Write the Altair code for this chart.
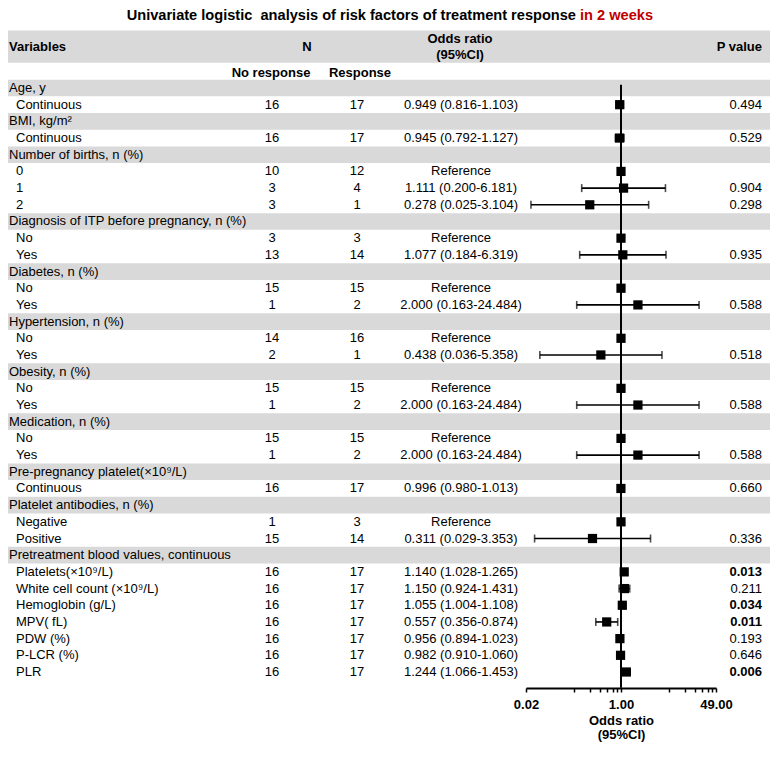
import altair as alt
import pandas as pd

# ---------------- data ----------------
title_black = "Univariate logistic\u00a0 analysis of risk factors of treatment response"
title_red = "in 2 weeks"

labels = [
    "Age, y", "Continuous",
    "BMI, kg/m\u00b2", "Continuous",
    "Number of births, n (%)", "0", "1", "2",
    "Diagnosis of ITP before pregnancy, n (%)", "No", "Yes",
    "Diabetes, n (%)", "No", "Yes",
    "Hypertension, n (%)", "No", "Yes",
    "Obesity, n (%)", "No", "Yes",
    "Medication, n (%)", "No", "Yes",
    "Pre-pregnancy platelet(\u00d710\u2079/L)", "Continuous",
    "Platelet antibodies, n (%)", "Negative", "Positive",
    "Pretreatment blood values, continuous",
    "Platelets(\u00d710\u2079/L)", "White cell count (\u00d710\u2079/L)", "Hemoglobin (g/L)",
    "MPV( fL)", "PDW (%)", "P-LCR (%)", "PLR",
]
is_group = [
    1, 0,
    1, 0,
    1, 0, 0, 0,
    1, 0, 0,
    1, 0, 0,
    1, 0, 0,
    1, 0, 0,
    1, 0, 0,
    1, 0,
    1, 0, 0,
    1,
    0, 0, 0, 0, 0, 0, 0,
]
no_response = [
    None, 16, None, 16, None, 10, 3, 3, None, 3, 13, None, 15, 1, None, 14, 2,
    None, 15, 1, None, 15, 1, None, 16, None, 1, 15, None, 16, 16, 16, 16, 16, 16, 16,
]
response = [
    None, 17, None, 17, None, 12, 4, 1, None, 3, 14, None, 15, 2, None, 16, 1,
    None, 15, 2, None, 15, 2, None, 17, None, 3, 14, None, 17, 17, 17, 17, 17, 17, 17,
]
# odds ratio, lower / upper 95% CI  (reference rows: OR = 1, no CI)
odds_ratio = [
    None, 0.949, None, 0.945, None, 1.0, 1.111, 0.278, None, 1.0, 1.077, None, 1.0, 2.000,
    None, 1.0, 0.438, None, 1.0, 2.000, None, 1.0, 2.000, None, 0.996, None, 1.0, 0.311,
    None, 1.140, 1.150, 1.055, 0.557, 0.956, 0.982, 1.244,
]
ci_low = [
    None, 0.816, None, 0.792, None, None, 0.200, 0.025, None, None, 0.184, None, None, 0.163,
    None, None, 0.036, None, None, 0.163, None, None, 0.163, None, 0.980, None, None, 0.029,
    None, 1.028, 0.924, 1.004, 0.356, 0.894, 0.910, 1.066,
]
ci_high = [
    None, 1.103, None, 1.127, None, None, 6.181, 3.104, None, None, 6.319, None, None, 24.484,
    None, None, 5.358, None, None, 24.484, None, None, 24.484, None, 1.013, None, None, 3.353,
    None, 1.265, 1.431, 1.108, 0.874, 1.023, 1.060, 1.453,
]
is_reference = [
    0, 0, 0, 0, 0, 1, 0, 0, 0, 1, 0, 0, 1, 0, 0, 1, 0, 0, 1, 0, 0, 1, 0, 0, 0, 0, 1, 0,
    0, 0, 0, 0, 0, 0, 0, 0,
]
p_values = [
    None, "0.494", None, "0.529", None, None, "0.904", "0.298", None, None, "0.935", None, None,
    "0.588", None, None, "0.518", None, None, "0.588", None, None, "0.588", None, "0.660",
    None, None, "0.336", None, "0.013", "0.211", "0.034", "0.011", "0.193", "0.646", "0.006",
]
p_significant = [
    0, 0, 0, 0, 0, 0, 0, 0, 0, 0, 0, 0, 0, 0, 0, 0, 0, 0, 0, 0, 0, 0, 0, 0, 0, 0, 0, 0,
    0, 1, 0, 1, 1, 0, 0, 1,
]
axis_ticks = [1 / 49] + [k / 7 for k in range(1, 8)] + [7 * k for k in range(1, 8)]
axis_domain = [1 / 49, 49]

# ---------------- tables ----------------
FIRST_ROW = 2
rows = []
for i, lab in enumerate(labels):
    r = FIRST_ROW + i
    if odds_ratio[i] is None:
        ortxt = ""
    elif is_reference[i]:
        ortxt = "Reference"
    else:
        ortxt = f"{odds_ratio[i]:.3f} ({ci_low[i]:.3f}-{ci_high[i]:.3f})"
    rows.append(dict(
        row=r, label=lab, group=is_group[i],
        nr="" if no_response[i] is None else str(no_response[i]),
        rs="" if response[i] is None else str(response[i]),
        ortxt=ortxt, p=p_values[i] or "", sig=p_significant[i],
        orv=odds_ratio[i], lo=ci_low[i], hi=ci_high[i],
    ))
df = pd.DataFrame(rows)

bands = pd.DataFrame(
    [dict(y=r - 0.5, y2=r + 0.5) for r, g in zip(df.row, df.group) if g]
    + [dict(y=-1.45, y2=0.48)]
)
caps = pd.DataFrame(
    [dict(row=r, v=v) for r, lo, hi in zip(df.row, df.lo, df.hi) if pd.notna(lo) for v in (lo, hi)]
)
ci_df = df[df.lo.notna()]
pts_df = df[df.orv.notna()]
refline = pd.DataFrame([dict(x=1.0, y=1.8, y2=37.95)])

FONT = "Liberation Sans"
W, H = 762, 680
yscale = alt.Scale(domain=[2, 37], range=[80, 664], zero=False, nice=False)
xscale = alt.Scale(type="log", domain=axis_domain, range=[518, 708], nice=False)
label_expr = ("abs(datum.value - 1) < 1e-6 ? '1.00' : datum.value > 48 ? '49.00' : "
              "datum.value < 0.021 ? '0.02' : ''")
xaxis = alt.Axis(
    values=axis_ticks, labelExpr=label_expr, grid=False,
    domainColor="black", domainWidth=2, tickColor="black", tickWidth=1.5, tickSize=4,
    labelFont=FONT, labelFontSize=13, labelFontWeight="bold", labelColor="black",
    labelPadding=6, labelFlush=False, labelOverlap=False, labelBound=False,
    title=["Odds ratio", "(95%CI)"], titleFont=FONT, titleFontSize=13,
    titleFontWeight="bold", titleColor="black", titlePadding=3, titleLineHeight=14,
)


def yenc(field="row"):
    return alt.Y(f"{field}:Q", scale=yscale, axis=None)


band_layer = alt.Chart(bands).mark_rect(color="#d9d9d9").encode(
    x=alt.value(0), x2=alt.value(W), y=yenc("y"), y2="y2:Q"
)
ref_layer = alt.Chart(refline).mark_rule(color="black", strokeWidth=2).encode(
    x=alt.X("x:Q", scale=xscale, axis=xaxis), y=yenc("y"), y2="y2:Q"
)
ci_layer = alt.Chart(ci_df).mark_rule(color="black", strokeWidth=1.6).encode(
    x=alt.X("lo:Q", scale=xscale, axis=xaxis), x2="hi:Q", y=yenc()
)
cap_layer = alt.Chart(caps).mark_tick(color="black", orient="vertical", size=8, thickness=1.6).encode(
    x=alt.X("v:Q", scale=xscale, axis=xaxis), y=yenc()
)
pt_layer = alt.Chart(pts_df).mark_point(
    shape="square", filled=True, color="black", opacity=1, size=85
).encode(x=alt.X("orv:Q", scale=xscale, axis=xaxis), y=yenc())


def txt(data, field, x, align="left", bold=False, color="black", size=13):
    return alt.Chart(data).mark_text(
        align=align, baseline="middle", font=FONT, fontSize=size,
        fontWeight="bold" if bold else "normal", color=color,
    ).encode(x=alt.value(x), y=yenc(), text=f"{field}:N")


group_txt = txt(df[df.group == 1], "label", 1)
item_txt = txt(df[df.group == 0], "label", 8)
nr_txt = txt(df[df.nr != ""], "nr", 264, align="center")
rs_txt = txt(df[df.rs != ""], "rs", 349, align="center")
or_txt = txt(df[df.ortxt != ""], "ortxt", 453, align="center")
p_txt = txt(df[(df.p != "") & (df.sig == 0)], "p", 754, align="right")
pb_txt = txt(df[(df.p != "") & (df.sig == 1)], "p", 754, align="right", bold=True)

header_layers = [
    txt(pd.DataFrame([dict(row=-0.45, t="Variables")]), "t", 1, bold=True),
    txt(pd.DataFrame([dict(row=-0.45, t="N")]), "t", 299, align="center", bold=True),
    txt(pd.DataFrame([dict(row=-0.92, t="Odds ratio")]), "t", 452, align="center", bold=True),
    txt(pd.DataFrame([dict(row=0.02, t="(95%CI)")]), "t", 452, align="center", bold=True),
    txt(pd.DataFrame([dict(row=-0.45, t="P value")]), "t", 754, align="right", bold=True),
    txt(pd.DataFrame([dict(row=1.12, t="No response")]), "t", 263, align="center", bold=True),
    txt(pd.DataFrame([dict(row=1.12, t="Response")]), "t", 352, align="center", bold=True),
    txt(pd.DataFrame([dict(row=-2.3, t=title_black)]), "t", 568, align="right", bold=True, size=14.6),
    txt(pd.DataFrame([dict(row=-2.3, t=title_red)]), "t", 572, align="left", bold=True,
        color="#c00000", size=14.6),
]

chart = alt.layer(
    band_layer, ref_layer, ci_layer, cap_layer, pt_layer,
    group_txt, item_txt, nr_txt, rs_txt, or_txt, p_txt, pb_txt, *header_layers,
).properties(
    width=W, height=H, autosize="none",
    padding={"left": 0, "top": 0, "right": 0, "bottom": 58},
    background="white",
).configure_view(stroke=None)

chart.save("out.html", embed_options={"renderer": "svg", "actions": False})
